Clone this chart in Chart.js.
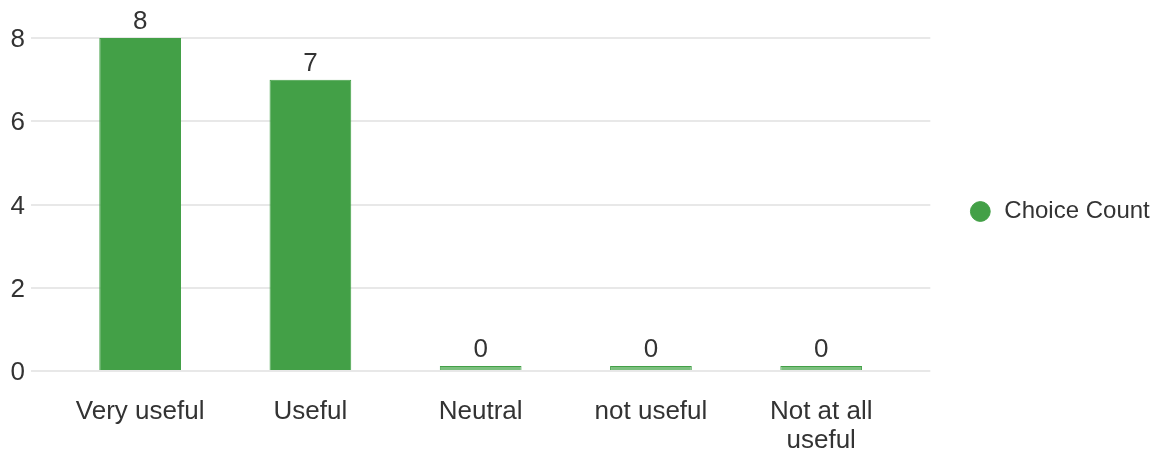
<!DOCTYPE html>
<html>
<head>
<meta charset="utf-8">
<script src="https://cdn.jsdelivr.net/npm/chart.js@4/dist/chart.umd.min.js"></script>
<style>
  html, body { margin: 0; padding: 0; background: #fff; }
  #wrap { width: 1156px; height: 450px; position: relative; }
</style>
</head>
<body>
<div id="wrap"><canvas id="chart"></canvas></div>
<script>
// Survey answers and their counts
const categories = ['Very useful', 'Useful', 'Neutral', 'not useful', ['Not at all', 'useful']];
const choiceCounts = [8, 7, 0, 0, 0];
const seriesName = 'Choice Count';
const yTicks = [0, 2, 4, 6, 8];

const GREEN = '#43a047';
const TEXT = '#333333';
const GRID = '#e8e8e8';
const FONT = "'Liberation Sans', Arial, sans-serif";

// Writes each bar's value just above it
const valueLabels = {
  id: 'valueLabels',
  afterDatasetsDraw(chart) {
    const ctx = chart.ctx;
    ctx.save();
    ctx.font = '26px ' + FONT;
    ctx.fillStyle = TEXT;
    ctx.textAlign = 'center';
    ctx.textBaseline = 'alphabetic';
    chart.data.datasets.forEach((ds, di) => {
      chart.getDatasetMeta(di).data.forEach((bar, i) => {
        const top = Math.min(bar.y, bar.base);
        ctx.fillText(String(ds.data[i]), bar.x, top - 9);
      });
    });
    ctx.restore();
  }
};

new Chart(document.getElementById('chart'), {
  type: 'bar',
  data: {
    labels: categories,
    datasets: [{
      label: seriesName,
      data: choiceCounts,
      backgroundColor: (c) => (c.raw === 0 ? '#7cc07f' : GREEN),
      borderColor: GREEN,
      borderWidth: 1,
      minBarLength: 5,
      categoryPercentage: 1,
      barPercentage: 0.48
    }]
  },
  options: {
    responsive: true,
    maintainAspectRatio: false,
    animation: false,
    layout: { padding: { top: 38, left: 0, right: 6, bottom: 0 } },
    plugins: {
      tooltip: { enabled: false },
      legend: {
        position: 'right',
        fullSize: false,
        // blank spacer line above the entry to nudge it down
        title: { display: true, text: ' ', padding: 0, font: { size: 14, lineHeight: 1 } },
        labels: {
          usePointStyle: true,
          pointStyle: 'circle',
          boxWidth: 24,
          boxHeight: 14,
          padding: 10,
          color: TEXT,
          font: { family: FONT, size: 24 }
        }
      }
    },
    scales: {
      x: {
        afterFit: (scale) => { scale.height = 79; },
        grid: { display: false, drawTicks: false },
        border: { display: false },
        ticks: {
          color: TEXT,
          padding: 27,
          maxRotation: 0,
          autoSkip: false,
          font: { family: FONT, size: 26, lineHeight: 1.1 }
        }
      },
      y: {
        min: 0,
        max: 8,
        afterBuildTicks: (scale) => { scale.ticks = yTicks.map(v => ({ value: v })); },
        afterFit: (scale) => { scale.width = 55; },
        grid: { color: GRID, lineWidth: 2, tickLength: 24 },
        border: { display: false },
        ticks: {
          color: TEXT,
          padding: 6,
          labelOffset: 2,
          font: { family: FONT, size: 26 }
        }
      },
      yRight: {
        position: 'right',
        min: 0,
        max: 8,
        afterBuildTicks: (scale) => { scale.ticks = yTicks.map(v => ({ value: v })); },
        afterFit: (scale) => { scale.width = 52; },
        grid: { color: GRID, lineWidth: 2, tickLength: 24, drawOnChartArea: false },
        border: { display: false },
        ticks: { display: false }
      }
    }
  },
  plugins: [valueLabels]
});
</script>
</body>
</html>
